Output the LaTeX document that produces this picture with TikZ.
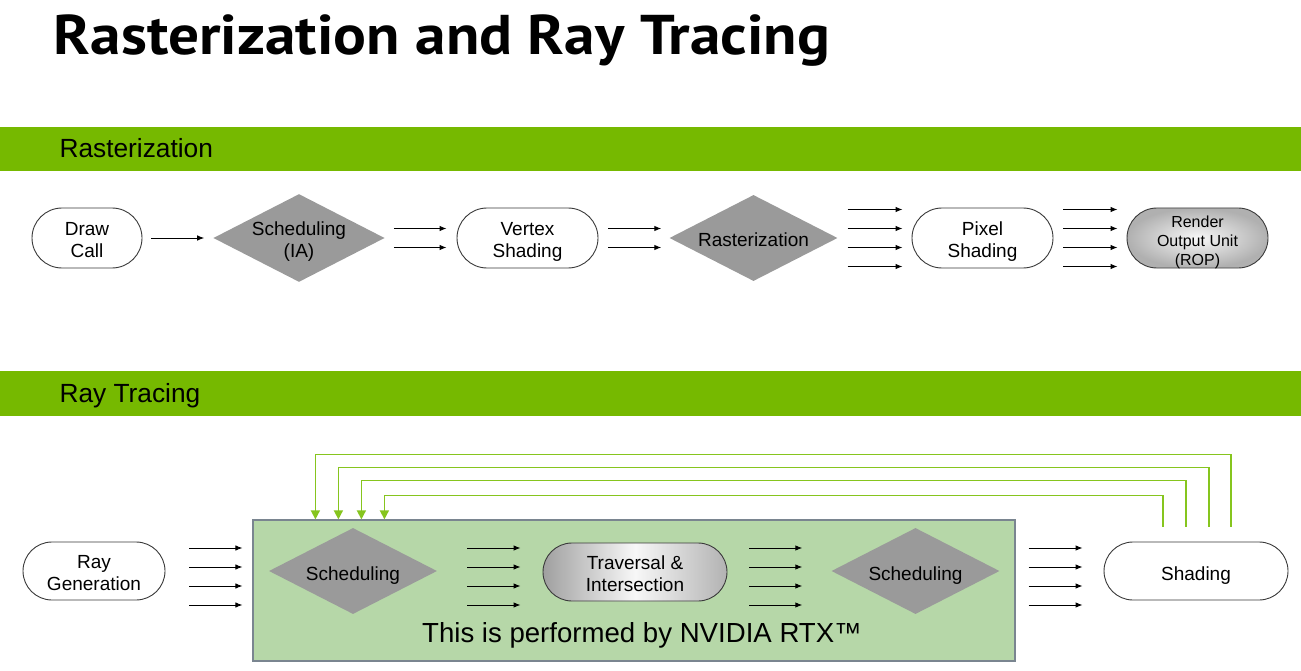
\documentclass[tikz,border=0pt]{standalone}
\usepackage{fontspec}
\setmainfont{Liberation Sans}
\newfontfamily\titlefont{PT Sans}
\usetikzlibrary{shapes.geometric,shapes.misc,arrows.meta,calc}

\definecolor{nvgreen}{HTML}{76B900}
\definecolor{boxgreen}{HTML}{B6D7A8}
\definecolor{boxedge}{HTML}{7A8590}
\definecolor{fbgreen}{HTML}{86C51E}
\definecolor{diagray}{HTML}{9A9A9A}
\definecolor{edgegray}{HTML}{3A3A3A}

\tikzset{
  stage/.style={rounded rectangle, draw=edgegray, line width=0.9pt, fill=white,
    minimum width=141, minimum height=60, inner sep=0pt, align=center,
    font=\fontsize{19}{22}\selectfont},
  sched/.style={diamond, fill=diagray, minimum width=168, minimum height=86,
    aspect=1.95, inner sep=0pt, align=center, font=\fontsize{19}{22}\selectfont},
  oneline/.style={text height=18pt, text depth=0pt},
  twoline/.style={text height=39.6pt, text depth=0pt},
  threeline/.style={text height=55.4pt, text depth=0pt},
  flow/.style={line width=0.9pt, -{Latex[length=7,width=5.5]}},
  feedback/.style={fbgreen, line width=1.5pt, -{Triangle[length=9,width=9]}},
}

% parallel arrows between two nodes: row, from, to, gap out, gap in, y offsets
\newcommand{\fanout}[6]{%
  \foreach \dy in {#6}
    \draw[flow] ($(#2.east |- #1)+(#4,\dy)$) -- ($(#3.west |- #1)+(-#5,\dy)$);%
}

\begin{document}
\begin{tikzpicture}[x=1pt,y=-1pt]
\useasboundingbox (0,0) rectangle (1301,671);

% TITLE
\node[anchor=base west, xscale=1.095,
  font=\titlefont\bfseries\fontsize{56}{60}\selectfont]
  (title) at (50,55) {Rasterization and Ray Tracing};

%% RASTERIZATION
\fill[nvgreen] (0,127) rectangle (1301,171);
\node[anchor=base west, font=\fontsize{26.3}{30}\selectfont] (rastlabel) at (56,158) {Rasterization};
\coordinate (row1) at (0,238);

\node[stage, twoline, minimum width=110] (drawcall) at (87,238) {Draw\\Call};
\node[sched, twoline] (schedia) at (299,238) {Scheduling\\(IA)};
\node[stage, twoline] (vertex) at (527.5,238) {Vertex\\Shading};
\node[sched, oneline] (raster) at (753.5,238) {Rasterization};
\node[stage, twoline] (pixel) at (982.5,238) {Pixel\\Shading};
\node[stage, threeline, inner color=gray!6, outer color=gray!62,
  font=\fontsize{16}{19}\selectfont] (rop) at (1197.5,238) {Render\\Output Unit\\(ROP)};

\fanout{row1}{drawcall}{schedia}{9}{9}{0}
\fanout{row1}{schedia}{vertex}{9}{10}{-9.5,9.5}
\fanout{row1}{vertex}{raster}{10}{8}{-9.5,9.5}
\fanout{row1}{raster}{pixel}{10}{9}{-28.5,-9.5,9.5,28.5}
\fanout{row1}{pixel}{rop}{10}{9}{-28.5,-9.5,9.5,28.5}

%% RAY TRACING
\fill[nvgreen] (0,371) rectangle (1301,416);
\node[anchor=base west, font=\fontsize{26.3}{30}\selectfont] (raylabel) at (56,402) {Ray Tracing};
\coordinate (row2) at (0,572);

% RTX part
\node[draw=boxedge, line width=1.2pt, fill=boxgreen, minimum width=762,
  minimum height=141, inner sep=0pt] (rtx) at (634,590.5) {};
\node[anchor=base, font=\fontsize{27.6}{30}\selectfont] (rtxlabel) at (642,642) {This is performed by NVIDIA RTX™};

\node[stage, twoline, minimum width=142, minimum height=58] (raygen) at (94,571) {Ray\\Generation};
\node[sched, oneline] (schedin) at (353,571) {Scheduling};
\node[stage, twoline, minimum width=184, minimum height=58, left color=gray!75,
  right color=gray!60, middle color=gray!6] (trav) at (635,572) {Traversal \&\\Intersection};
\node[sched, oneline] (schedout) at (915.5,571) {Scheduling};
\node[stage, oneline, minimum width=184, minimum height=58] (shading) at (1196,571) {Shading};

\fanout{row2}{raygen}{rtx}{24}{10}{-24,-5,14,33}
\fanout{row2}{schedin}{trav}{30}{22}{-24,-5,14,33}
\fanout{row2}{trav}{schedout}{22}{29}{-24,-5,14,33}
\fanout{row2}{rtx}{shading}{13}{21}{-24,-5,14,33}

% feedback from shading back into RTX
\foreach \dx/\h/\bx in {35/72/63, 13/59/86, -10/46/109, -33/31/132}
  \draw[feedback] ($(shading.north)+(\dx,-15)$) -- ++(0,-\h)
    -| ($(rtx.north west)+(\bx,0)$);
\end{tikzpicture}
\end{document}
